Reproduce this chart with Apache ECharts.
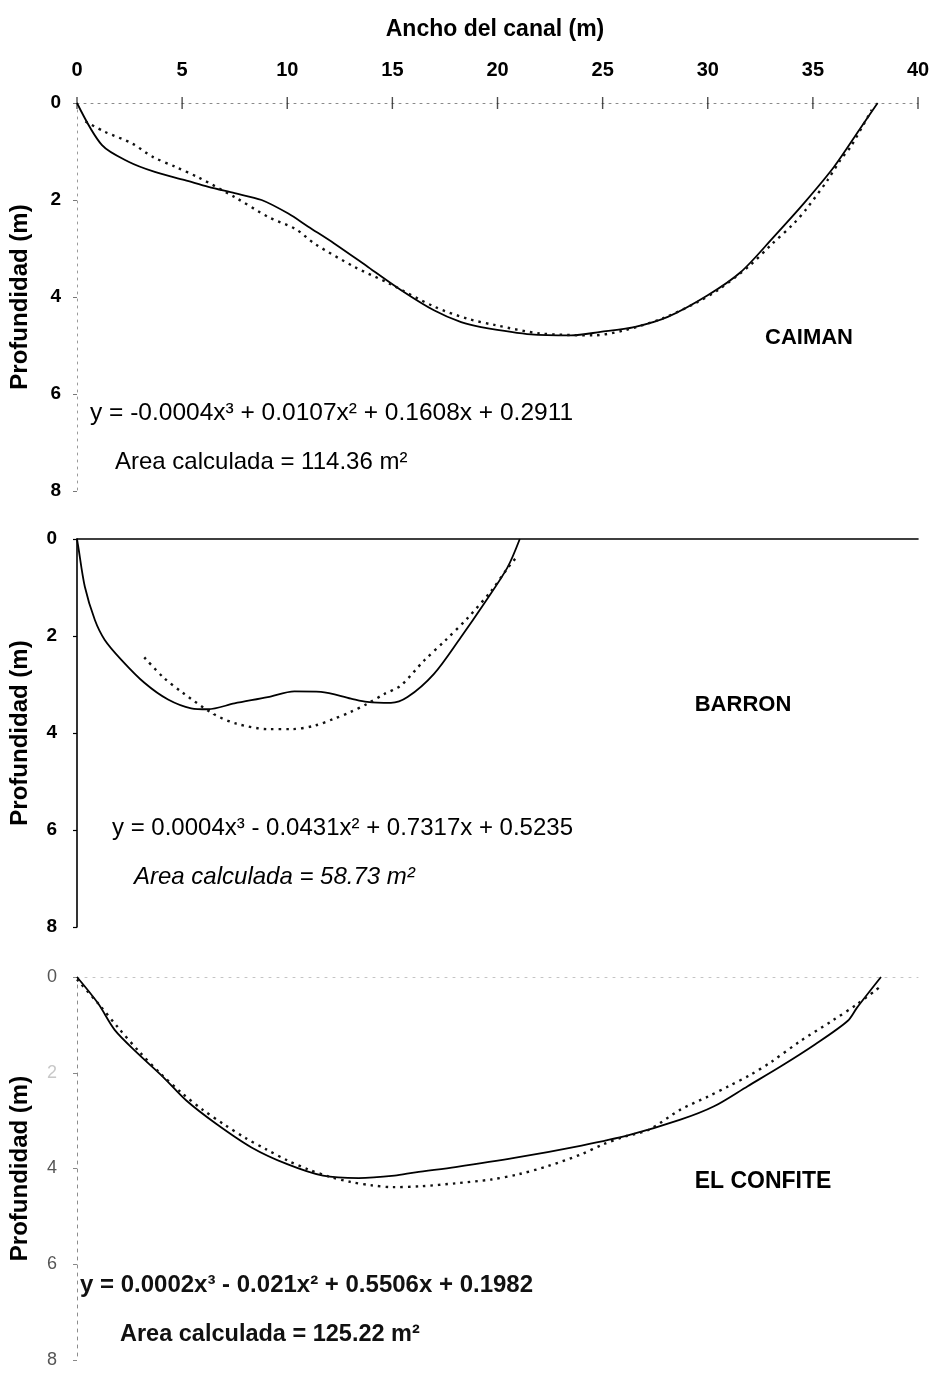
<!DOCTYPE html>
<html>
<head>
<meta charset="utf-8">
<title>Perfiles transversales</title>
<script src="https://cdn.jsdelivr.net/npm/echarts@6/dist/echarts.min.js"></script>
<style>
  html, body { margin: 0; padding: 0; background: #ffffff; }
  #chart { width: 934px; height: 1376px; }
</style>
</head>
<body>
<div id="chart"></div>
<script>
// ---- Cross sections: width across the channel (m) vs depth (m) ----

// CAIMAN: measured bed profile
const caimanX     = [0, 1.19, 2.45, 3.7, 5.13, 6.25, 7.5, 8.78, 10.05, 11.0, 12.25, 13.84, 15.42, 17.0, 18.27, 19.22, 21.6, 23.5, 24.9, 26.5, 28.1, 29.98, 31.56, 33.14, 34.57, 36.0, 37.26, 38.08];
const caimanDepth = [0, 0.87, 1.21, 1.42, 1.59, 1.73, 1.86, 2.0, 2.28, 2.55, 2.9, 3.38, 3.86, 4.28, 4.52, 4.62, 4.77, 4.79, 4.72, 4.62, 4.41, 3.97, 3.49, 2.76, 2.07, 1.32, 0.52, 0];
// CAIMAN: fitted cubic (dotted)
const caimanFitX     = [0.4, 1.3, 2.6, 3.6, 4.7, 5.8, 7.5, 9.1, 10.4, 11.3, 13.2, 14.8, 17.0, 18.6, 19.9, 22.0, 24.6, 26.0, 27.8, 29.4, 30.5, 32.0, 33.0, 34.1, 34.7, 35.7, 36.3, 36.8, 37.8];
const caimanFitDepth = [0.38, 0.59, 0.83, 1.11, 1.32, 1.54, 1.94, 2.35, 2.6, 2.9, 3.38, 3.71, 4.2, 4.45, 4.58, 4.75, 4.79, 4.69, 4.45, 4.13, 3.85, 3.35, 2.93, 2.48, 2.18, 1.59, 1.18, 0.9, 0.14];

// BARRON: measured bed profile
const barronX     = [0, 0.06, 0.37, 0.85, 1.32, 2.11, 3.22, 4.33, 5.43, 6.23, 7.49, 9.07, 10.34, 11.6, 13.03, 13.8, 14.93, 15.72, 16.98, 18.25, 19.35, 20.47, 21.06];
const barronDepth = [0, 0.16, 0.98, 1.67, 2.08, 2.49, 2.97, 3.31, 3.49, 3.51, 3.39, 3.26, 3.14, 3.15, 3.29, 3.36, 3.38, 3.26, 2.78, 2.03, 1.34, 0.59, 0];
// BARRON: fitted cubic (dotted)
const barronFitX     = [3.2, 4.1, 5.0, 6.5, 7.6, 9.1, 10.2, 11.3, 12.2, 13.0, 13.8, 14.6, 15.4, 16.5, 17.5, 18.6, 19.7, 20.5, 20.9];
const barronFitDepth = [2.44, 2.85, 3.16, 3.61, 3.81, 3.92, 3.92, 3.85, 3.71, 3.57, 3.4, 3.2, 3.02, 2.51, 2.1, 1.62, 1.07, 0.59, 0.38];

// EL CONFITE: measured bed profile
const confiteX     = [0, 1.0, 1.8, 2.9, 4.1, 5.2, 6.6, 8.3, 10.0, 11.7, 13.4, 15.1, 16.1, 18.0, 20.8, 24.0, 26.2, 28.7, 30.3, 31.9, 33.5, 35.1, 36.65, 37.1, 38.24];
const confiteDepth = [0, 0.55, 1.11, 1.6, 2.09, 2.58, 3.06, 3.56, 3.91, 4.15, 4.2, 4.15, 4.08, 3.97, 3.78, 3.52, 3.31, 2.98, 2.7, 2.28, 1.86, 1.41, 0.92, 0.64, 0];
// EL CONFITE: fitted cubic (dotted)
const confiteFitX     = [0, 1, 2, 3, 4, 5, 6, 7, 8, 9, 10, 11, 12, 13, 14, 15, 16.4, 18, 19.7, 21, 22.4, 24, 25, 26, 27.2, 28.7, 30, 31, 32, 33, 34.4, 35.9, 37.1, 38.15];
const confiteFitDepth = [0.05, 0.55, 1.08, 1.58, 2.03, 2.43, 2.78, 3.08, 3.36, 3.6, 3.83, 4.02, 4.17, 4.28, 4.35, 4.39, 4.37, 4.31, 4.23, 4.12, 3.95, 3.7, 3.5, 3.34, 3.19, 2.77, 2.5, 2.28, 2.05, 1.78, 1.34, 0.92, 0.57, 0.22];

// Axis ranges and tick values
const widthTicks = [0, 5, 10, 15, 20, 25, 30, 35, 40];
const depthMin = 0, depthMax = 8, depthStep = 2;

// Annotations
const sectionNames = ['CAIMAN', 'BARRON', 'EL CONFITE'];
const equations = [
  'y = -0.0004x³ + 0.0107x² + 0.1608x + 0.2911',
  'y = 0.0004x³ - 0.0431x² + 0.7317x + 0.5235',
  'y = 0.0002x³ - 0.021x² + 0.5506x + 0.1982'
];
const areaTexts = [
  'Area calculada = 114.36 m²',
  'Area calculada = 58.73 m²',
  'Area calculada = 125.22 m²'
];
const xTitle = 'Ancho del canal (m)';
const yTitle = 'Profundidad (m)';

const FONT = '"Liberation Sans", Arial, Helvetica, sans-serif';

function pairs(xs, ys) { return xs.map((x, i) => [x, ys[i]]); }

const grids = [
  { left: 75, right: 16, top: 103, height: 388 },
  { left: 75, right: 16, top: 539, height: 388 },
  { left: 75, right: 16, top: 977, height: 383 }
];

const xAxes = [
  { // top panel: carries the scale labels
    gridIndex: 0, type: 'value', position: 'top', min: 0, max: 40, interval: 5,
    axisLine: { show: true, lineStyle: { color: '#8a8a8a', width: 1, type: [2, 5] } },
    axisTick: { show: false },
    axisLabel: { show: true, margin: 23, color: '#000', fontFamily: FONT, fontSize: 20, fontWeight: 'bold' },
    splitLine: { show: false }
  },
  {
    gridIndex: 1, type: 'value', position: 'top', min: 0, max: 40, interval: 5,
    axisLine: { show: true, lineStyle: { color: '#000', width: 1.6 } },
    axisTick: { show: false }, axisLabel: { show: false }, splitLine: { show: false }
  },
  {
    gridIndex: 2, type: 'value', position: 'top', min: 0, max: 40, interval: 5,
    axisLine: { show: true, lineStyle: { color: '#c4c4c4', width: 1, type: [2, 6] } },
    axisTick: { show: false }, axisLabel: { show: false }, splitLine: { show: false }
  }
];

function depthAxis(idx, lineStyle, labelStyle, tickStyle) {
  return {
    gridIndex: idx, type: 'value', inverse: true,
    min: depthMin, max: depthMax, interval: depthStep,
    name: yTitle, nameLocation: 'middle', nameGap: 45, nameRotate: 90,
    nameTextStyle: { fontFamily: FONT, fontSize: 24, fontWeight: 'bold', color: '#000' },
    axisLine: { show: true, lineStyle: lineStyle },
    axisTick: tickStyle,
    axisLabel: Object.assign({ fontFamily: FONT }, labelStyle),
    splitLine: { show: false }
  };
}

const yAxes = [
  depthAxis(0,
    { color: '#9a9a9a', width: 1, type: [2, 5] },
    { margin: 16, color: '#000', fontSize: 19, fontWeight: 'bold' },
    { show: true, length: 4, lineStyle: { color: '#777' } }),
  depthAxis(1,
    { color: '#000', width: 1.6 },
    { margin: 20, color: '#000', fontSize: 19, fontWeight: 'bold' },
    { show: true, length: 4, lineStyle: { color: '#000', width: 1.2 } }),
  depthAxis(2,
    { color: '#8c8c8c', width: 1, type: [3, 5] },
    {
      margin: 20, fontSize: 18, fontWeight: 'normal',
      // the "2" on this scale is printed very faintly
      formatter: v => (v === 2 ? '{faint|' + v + '}' : '{plain|' + v + '}'),
      rich: {
        plain: { color: '#555', fontFamily: FONT, fontSize: 18 },
        faint: { color: '#c8c8c8', fontFamily: FONT, fontSize: 18 }
      }
    },
    { show: true, length: 4, lineStyle: { color: '#888' } })
];

function profile(idx, xs, ys) {
  return {
    type: 'line', xAxisIndex: idx, yAxisIndex: idx, data: pairs(xs, ys),
    showSymbol: false, smooth: 0.3, silent: true,
    lineStyle: { color: '#000', width: 1.8 }
  };
}
function fitted(idx, xs, ys) {
  return {
    type: 'line', xAxisIndex: idx, yAxisIndex: idx, data: pairs(xs, ys),
    showSymbol: false, smooth: 0.3, silent: true,
    lineStyle: { color: '#111', width: 2.4, type: [2.5, 5] }
  };
}

const series = [
  profile(0, caimanX, caimanDepth),
  fitted(0, caimanFitX, caimanFitDepth),
  profile(1, barronX, barronDepth),
  fitted(1, barronFitX, barronFitDepth),
  profile(2, confiteX, confiteDepth),
  fitted(2, confiteFitX, confiteFitDepth),
  { // tick marks crossing the top scale line
    type: 'scatter', xAxisIndex: 0, yAxisIndex: 0, silent: true,
    data: widthTicks.map(v => [v, depthMin]),
    symbol: 'rect', symbolSize: [1.4, 12],
    itemStyle: { color: '#222' }
  }
];

function text(x, y, str, opts) {
  return {
    type: 'text', x: x, y: y, silent: true,
    style: Object.assign({
      text: str, fontFamily: FONT, fontSize: 24, fill: '#000',
      align: 'left', verticalAlign: 'middle'
    }, opts || {})
  };
}

const graphics = [
  text(495, 30, xTitle, { align: 'center', fontSize: 23, fontWeight: 'bold' }),
  text(809, 338, sectionNames[0], { align: 'center', fontSize: 22, fontWeight: 'bold' }),
  text(743, 705, sectionNames[1], { align: 'center', fontSize: 22, fontWeight: 'bold' }),
  text(763, 1182, sectionNames[2], { align: 'center', fontSize: 23, fontWeight: 'bold' }),
  text(90, 413, equations[0], { fontSize: 24.5 }),
  text(115, 462, areaTexts[0], { fontSize: 24 }),
  text(112, 828, equations[1], { fontSize: 24 }),
  text(134, 877, areaTexts[1], { fontSize: 24, fontStyle: 'italic' }),
  text(80, 1285, equations[2], { fontSize: 24, fontWeight: 'bold', fill: '#111' }),
  text(120, 1335, areaTexts[2], { fontSize: 23.5, fontWeight: 'bold', fill: '#111' })
];

const chart = echarts.init(document.getElementById('chart'), null, { renderer: 'canvas' });
chart.setOption({
  backgroundColor: '#ffffff',
  animation: false,
  grid: grids,
  xAxis: xAxes,
  yAxis: yAxes,
  series: series,
  graphic: graphics
});
</script>
</body>
</html>
